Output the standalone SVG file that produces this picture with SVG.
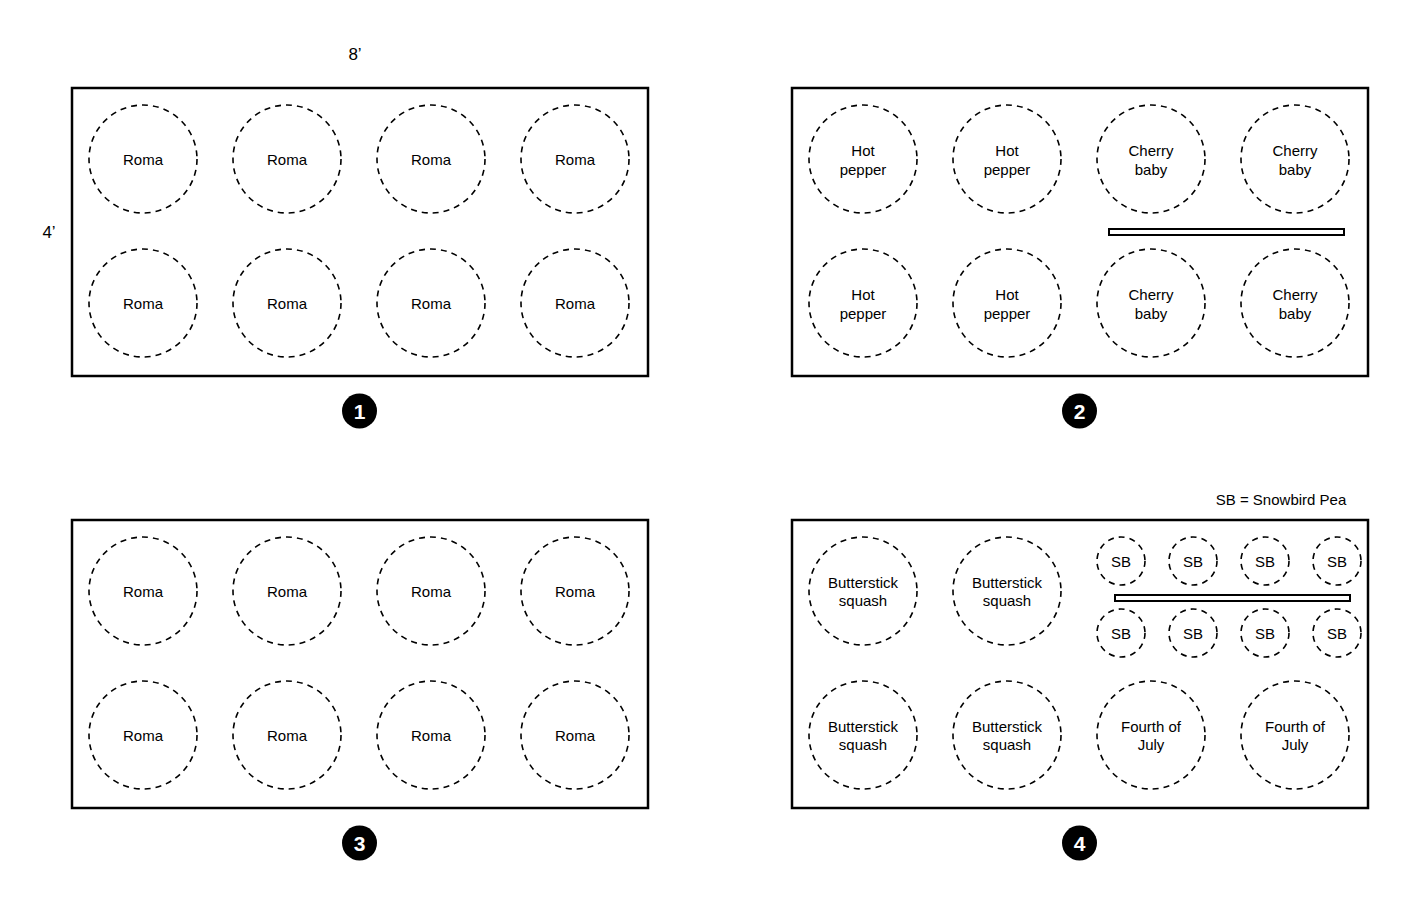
<svg xmlns="http://www.w3.org/2000/svg" width="1406" height="898" viewBox="0 0 1406 898">
<style>
.bed{fill:none;stroke:#000;stroke-width:2.5}
.p{fill:none;stroke:#000;stroke-width:1.6;stroke-dasharray:6 5}
.t{font-family:"Liberation Sans",Arial,sans-serif;font-size:15px;fill:#000;text-anchor:middle}
.bar{fill:#fff;stroke:#000;stroke-width:2}
.b{fill:#000}
.bt{font-family:"Liberation Sans",Arial,sans-serif;font-size:21px;font-weight:bold;fill:#fff;text-anchor:middle}
</style>
<rect width="1406" height="898" fill="#fff"/>
<text class="t" x="355" y="60" style="font-size:17px">8’</text>
<text class="t" x="49" y="238" style="font-size:17px">4’</text>
<text class="t" x="1281" y="505">SB = Snowbird Pea</text>
<g id="bed1">
<rect class="bed" x="72" y="88" width="576" height="288"/>
<g id="b1p"><circle class="p" cx="143" cy="159" r="54"/><circle class="p" cx="287" cy="159" r="54"/><circle class="p" cx="431" cy="159" r="54"/><circle class="p" cx="575" cy="159" r="54"/><circle class="p" cx="143" cy="303" r="54"/><circle class="p" cx="287" cy="303" r="54"/><circle class="p" cx="431" cy="303" r="54"/><circle class="p" cx="575" cy="303" r="54"/></g>
<text class="t" x="143" y="165">Roma</text><text class="t" x="287" y="165">Roma</text><text class="t" x="431" y="165">Roma</text><text class="t" x="575" y="165">Roma</text>
<text class="t" x="143" y="309">Roma</text><text class="t" x="287" y="309">Roma</text><text class="t" x="431" y="309">Roma</text><text class="t" x="575" y="309">Roma</text>
<circle class="b" cx="359.5" cy="411" r="17.5"/><text class="bt" x="359.5" y="419">1</text>
</g>
<g id="bed2">
<rect class="bed" x="792" y="88" width="576" height="288"/>
<circle class="p" cx="863" cy="159" r="54"/><circle class="p" cx="1007" cy="159" r="54"/><circle class="p" cx="1151" cy="159" r="54"/><circle class="p" cx="1295" cy="159" r="54"/><circle class="p" cx="863" cy="303" r="54"/><circle class="p" cx="1007" cy="303" r="54"/><circle class="p" cx="1151" cy="303" r="54"/><circle class="p" cx="1295" cy="303" r="54"/>
<rect class="bar" x="1109" y="229" width="235" height="6"/>
<text class="t" x="863" y="156">Hot</text><text class="t" x="863" y="175">pepper</text>
<text class="t" x="1007" y="156">Hot</text><text class="t" x="1007" y="175">pepper</text>
<text class="t" x="1151" y="156">Cherry</text><text class="t" x="1151" y="175">baby</text>
<text class="t" x="1295" y="156">Cherry</text><text class="t" x="1295" y="175">baby</text>
<text class="t" x="863" y="300">Hot</text><text class="t" x="863" y="319">pepper</text>
<text class="t" x="1007" y="300">Hot</text><text class="t" x="1007" y="319">pepper</text>
<text class="t" x="1151" y="300">Cherry</text><text class="t" x="1151" y="319">baby</text>
<text class="t" x="1295" y="300">Cherry</text><text class="t" x="1295" y="319">baby</text>
<circle class="b" cx="1079.5" cy="411" r="17.5"/><text class="bt" x="1079.5" y="419">2</text>
</g>
<g id="bed3">
<rect class="bed" x="72" y="520" width="576" height="288"/>
<circle class="p" cx="143" cy="591" r="54"/><circle class="p" cx="287" cy="591" r="54"/><circle class="p" cx="431" cy="591" r="54"/><circle class="p" cx="575" cy="591" r="54"/><circle class="p" cx="143" cy="735" r="54"/><circle class="p" cx="287" cy="735" r="54"/><circle class="p" cx="431" cy="735" r="54"/><circle class="p" cx="575" cy="735" r="54"/>
<text class="t" x="143" y="597">Roma</text><text class="t" x="287" y="597">Roma</text><text class="t" x="431" y="597">Roma</text><text class="t" x="575" y="597">Roma</text>
<text class="t" x="143" y="741">Roma</text><text class="t" x="287" y="741">Roma</text><text class="t" x="431" y="741">Roma</text><text class="t" x="575" y="741">Roma</text>
<circle class="b" cx="359.5" cy="843" r="17.5"/><text class="bt" x="359.5" y="851">3</text>
</g>
<g id="bed4">
<rect class="bed" x="792" y="520" width="576" height="288"/>
<circle class="p" cx="863" cy="591" r="54"/><circle class="p" cx="1007" cy="591" r="54"/><circle class="p" cx="863" cy="735" r="54"/><circle class="p" cx="1007" cy="735" r="54"/><circle class="p" cx="1151" cy="735" r="54"/><circle class="p" cx="1295" cy="735" r="54"/>
<circle class="p" cx="1121" cy="561" r="24"/><circle class="p" cx="1193" cy="561" r="24"/><circle class="p" cx="1265" cy="561" r="24"/><circle class="p" cx="1337" cy="561" r="24"/>
<circle class="p" cx="1121" cy="633" r="24"/><circle class="p" cx="1193" cy="633" r="24"/><circle class="p" cx="1265" cy="633" r="24"/><circle class="p" cx="1337" cy="633" r="24"/>
<rect class="bar" x="1115" y="595" width="235" height="6"/>
<text class="t" x="1121" y="567">SB</text><text class="t" x="1193" y="567">SB</text><text class="t" x="1265" y="567">SB</text><text class="t" x="1337" y="567">SB</text>
<text class="t" x="1121" y="639">SB</text><text class="t" x="1193" y="639">SB</text><text class="t" x="1265" y="639">SB</text><text class="t" x="1337" y="639">SB</text>
<text class="t" x="863" y="588">Butterstick</text><text class="t" x="863" y="606">squash</text>
<text class="t" x="1007" y="588">Butterstick</text><text class="t" x="1007" y="606">squash</text>
<text class="t" x="863" y="732">Butterstick</text><text class="t" x="863" y="750">squash</text>
<text class="t" x="1007" y="732">Butterstick</text><text class="t" x="1007" y="750">squash</text>
<text class="t" x="1151" y="732">Fourth of</text><text class="t" x="1151" y="750">July</text>
<text class="t" x="1295" y="732">Fourth of</text><text class="t" x="1295" y="750">July</text>
<circle class="b" cx="1079.5" cy="843" r="17.5"/><text class="bt" x="1079.5" y="851">4</text>
</g>
<g id="connectors"/>
</svg>
